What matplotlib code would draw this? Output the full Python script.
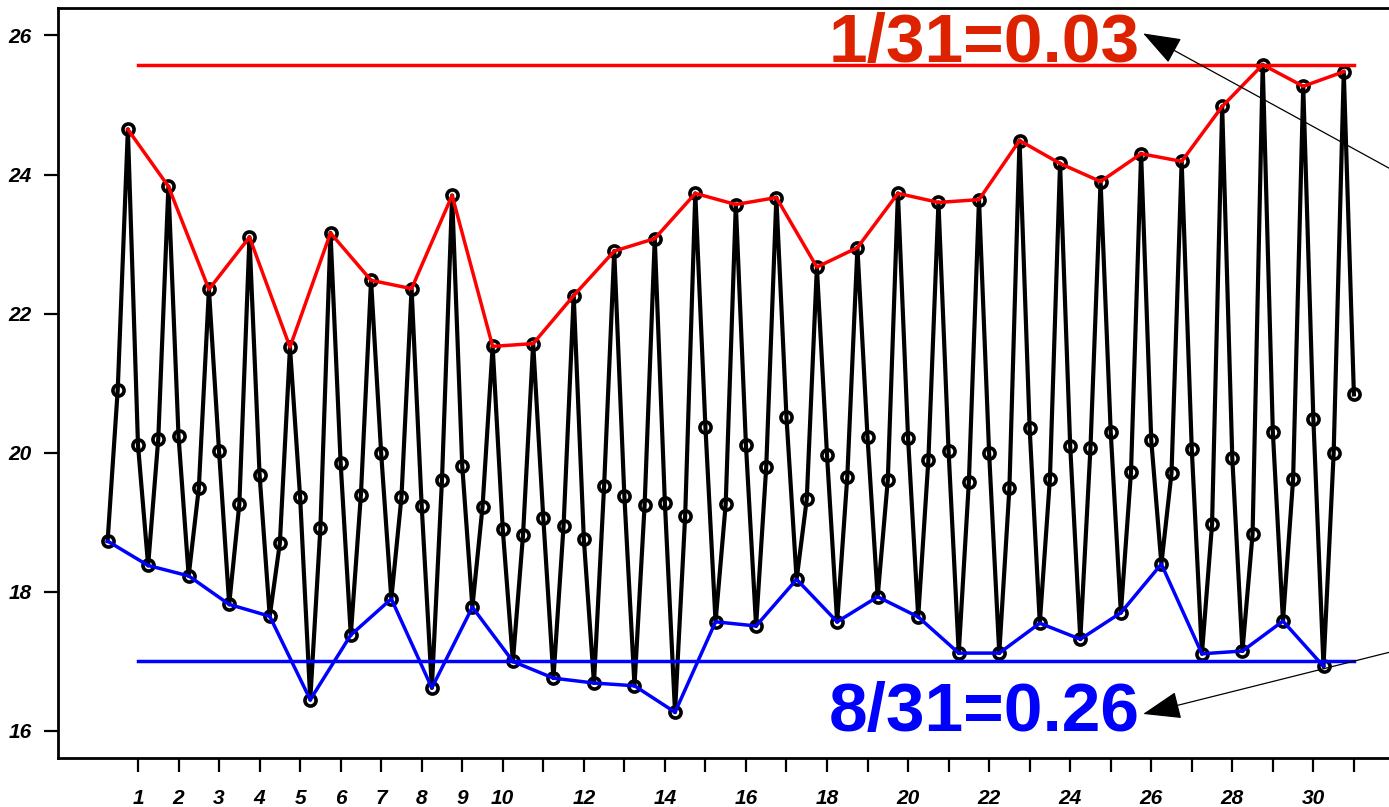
import numpy as np
import matplotlib
matplotlib.use('Agg')
import matplotlib.pyplot as plt

# daily observations: 4 readings per day (06, 12, 18, 24 h)
days = np.arange(1, 32)
obs_hours = [6, 12, 18, 24]

t_min = [18.73, 18.38, 18.23, 17.82, 17.65, 16.45, 17.38, 17.90, 16.62, 17.78,
         17.00, 16.76, 16.69, 16.65, 16.27, 17.57, 17.51, 18.18, 17.57, 17.93,
         17.64, 17.12, 17.12, 17.55, 17.32, 17.70, 18.40, 17.11, 17.15, 17.58, 16.93]
t_mid1 = [20.91, 20.20, 19.49, 19.26, 18.70, 18.92, 19.40, 19.36, 19.61, 19.22,
          18.82, 18.95, 19.52, 19.25, 19.09, 19.26, 19.79, 19.33, 19.65, 19.61,
          19.89, 19.58, 19.49, 19.63, 20.07, 19.72, 19.71, 18.97, 18.83, 19.62, 19.99]
t_max = [24.65, 23.83, 22.35, 23.10, 21.52, 23.16, 22.48, 22.36, 23.70, 21.53,
         21.57, 22.26, 22.90, 23.08, 23.73, 23.57, 23.67, 22.67, 22.95, 23.73,
         23.60, 23.64, 24.49, 24.16, 23.90, 24.30, 24.19, 24.98, 25.58, 25.27, 25.48]
t_mid2 = [20.11, 20.24, 20.02, 19.68, 19.36, 19.85, 19.99, 19.23, 19.81, 18.90,
          19.06, 18.76, 19.38, 19.28, 20.37, 20.11, 20.51, 19.97, 20.22, 20.21,
          20.02, 19.99, 20.35, 20.10, 20.30, 20.18, 20.05, 19.92, 20.30, 20.48, 20.84]

hi_level = 25.58
lo_level = 17.0
hi_label = "1/31=0.03"
lo_label = "8/31=0.26"

# build the continuous series
vals = np.column_stack([t_min, t_mid1, t_max, t_mid2])
times = np.array([[d - 1 + h / 24 for h in obs_hours] for d in days])

W, H = 1389, 807
fig = plt.figure(figsize=(W / 100, H / 100), dpi=100)
ax = fig.add_axes([58 / W, (H - 758) / H, (1430 - 58) / W, 750 / H])

ax.plot(times.ravel(), vals.ravel(), color='black', lw=3.0, marker='o',
        ms=8, mfc='none', mec='black', mew=2.6, zorder=2)
ax.plot(times[:, 2], vals[:, 2], color='#ff0000', lw=2.5, zorder=3)
ax.plot(times[:, 0], vals[:, 0], color='#0000ff', lw=2.5, zorder=3)
ax.plot([days[0], days[-1]], [hi_level, hi_level], color='#ff0000', lw=2.5, zorder=3)
ax.plot([days[0], days[-1]], [lo_level, lo_level], color='#0000ff', lw=2.5, zorder=3)

px = 40.53  # pixels per day
py = 69.55  # pixels per degree
ax.set_xlim(1 - (138 - 58) / px, 1 + (1430 - 138) / px)
ax.set_ylim(16 - 27 / py, 26 + 27.5 / py)

# labels and arrows
ax.text(25.72, hi_level + 0.04, hi_label, color='#dd2200', fontsize=50,
        fontweight='bold', family='Liberation Sans', ha='right', va='baseline')
ax.text(25.72, 16 + 0.0, lo_label, color='#0000ff', fontsize=50,
        fontweight='bold', family='Liberation Sans', ha='right', va='baseline')
arrow = dict(arrowstyle='-|>,head_length=0.6,head_width=0.22', color='black',
             lw=0.9, shrinkA=0, shrinkB=0, mutation_scale=40)
ax.annotate('', xy=(25.80, 26.03), xytext=(34.6, 23.22), arrowprops=arrow,
            annotation_clip=False)
ax.annotate('', xy=(25.80, 16.245), xytext=(34.6, 17.53), arrowprops=arrow,
            annotation_clip=False)

# axes styling
xlabels = [str(d) if (d <= 10 or d % 2 == 0) else '' for d in days]
ax.set_xticks(days)
ax.set_xticklabels(xlabels)
ax.set_yticks([16, 18, 20, 22, 24, 26])
for lab in ax.get_xticklabels() + ax.get_yticklabels():
    lab.set_fontfamily('Liberation Sans')
    lab.set_fontweight('bold')
    lab.set_fontstyle('italic')
    lab.set_fontsize(15)
ax.tick_params(axis='x', length=10, width=1.6, pad=12)
ax.tick_params(axis='y', length=10, width=1.6, pad=9)
for s in ax.spines.values():
    s.set_linewidth(2)

fig.savefig('out.png', dpi=100)
